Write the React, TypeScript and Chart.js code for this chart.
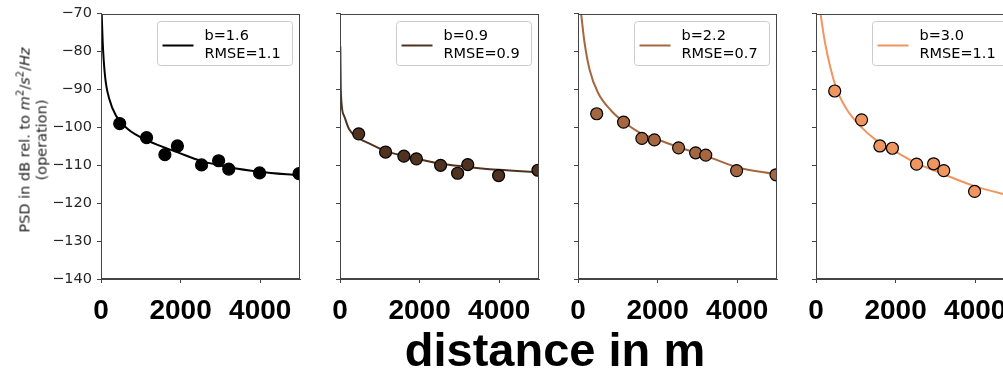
import React, { useEffect, useRef } from "react";
import { Chart, registerables } from "chart.js";

Chart.register(...registerables);

// ---------------- data ----------------
const distances = [470, 1145, 1605, 1920, 2527, 2955, 3210, 3985, 4975];

const psd1 = [-99.0, -102.7, -107.2, -104.9, -109.9, -108.8, -111.0, -112.0, -112.2];
const psd2 = [-101.7, -106.5, -107.6, -108.3, -110.0, -112.1, -109.8, -112.7, -111.3];
const psd3 = [-96.4, -98.6, -102.9, -103.3, -105.4, -106.7, -107.3, -111.4, -112.5];
const psd4 = [-90.4, -98.0, -104.9, -105.5, -109.7, -109.6, -111.4, -116.9];

const fitDist1 = [18, 43, 101, 211, 378, 672, 1175, 1930, 2533, 3221, 3984, 5000];
const fitPsd1 = [-70.2, -77.6, -86.4, -92.6, -96.9, -100.4, -103.5, -106.6, -108.9, -110.5, -111.7, -112.7];

const fitDist2 = [8, 20, 100, 226, 435, 770, 1190, 1945, 2524, 3195, 3983, 5000];
const fitPsd2 = [-78.6, -90.5, -96.9, -100.4, -102.6, -104.4, -106.4, -108.3, -109.6, -110.4, -111.2, -111.8];

const fitDist3 = [80, 164, 290, 500, 835, 1170, 1590, 2098, 2600, 3213, 3990, 5000];
const fitPsd3 = [-70.2, -77.6, -84.7, -90.8, -95.6, -98.7, -101.6, -103.6, -105.5, -107.5, -110.5, -112.4];

const fitDist4 = [115, 226, 352, 518, 770, 1107, 1525, 2028, 2531, 2960, 3211, 3983, 4712, 5000];
const fitPsd4 = [-70.2, -77.6, -83.8, -89.9, -95.2, -99.6, -103.5, -106.6, -109.5, -111.3, -112.4, -115.5, -117.6, -118.3];

const bValues = ["1.6", "0.9", "2.2", "3.0"];
const rmseValues = ["1.1", "0.9", "0.7", "1.1"];
const colors = ["#000000", "#503220", "#a5673f", "#ef955f"];

const xTicks = [0, 2000, 4000];
const yTicks = [-140, -130, -120, -110, -100, -90, -80, -70];
const xMin = 0;
const xMax = 5000;
const yMin = -140;
const yMax = -70;

const xTitle = "distance in m";

// ---------------- layout ----------------
const plotLefts = [101, 340, 578, 816];
const plotWidth = 199;
const axisWidths = [101, 30, 30, 30];
const rightPad = 8;
const canvasH = 330;
const topPad = 12;
const plotHeight = 267;

const scatterSets = [psd1, psd2, psd3, psd4];
const fitDists = [fitDist1, fitDist2, fitDist3, fitDist4];
const fitPsds = [fitPsd1, fitPsd2, fitPsd3, fitPsd4];

const axisColor = "#444444";

const framePlugin = {
  id: "frame",
  afterDatasetsDraw(chart: any) {
    const { ctx, chartArea: a } = chart;
    ctx.save();
    ctx.strokeStyle = axisColor;
    ctx.lineWidth = 1;
    const l = Math.round(a.left) + 0.5;
    const r = Math.round(a.right) - 0.5;
    const t = Math.round(a.top) + 0.5;
    const b = Math.round(a.bottom) - 0.5;
    ctx.strokeRect(l, t, r - l, b - t);
    ctx.restore();
  },
};

const legendPlugin = {
  id: "mplLegend",
  afterDatasetsDraw(chart: any, _args: any, opts: any) {
    const { ctx, chartArea: a } = chart;
    const w = 135;
    const h = 44;
    const x = Math.round(a.right - 8 - w) + 0.5;
    const y = Math.round(a.top + 7) + 0.5;
    ctx.save();
    ctx.beginPath();
    if ((ctx as any).roundRect) (ctx as any).roundRect(x, y, w, h, 3);
    else ctx.rect(x, y, w, h);
    ctx.fillStyle = "rgba(255,255,255,0.85)";
    ctx.fill();
    ctx.strokeStyle = "#cccccc";
    ctx.lineWidth = 1;
    ctx.stroke();
    ctx.beginPath();
    ctx.moveTo(x + 5, y + 24);
    ctx.lineTo(x + 36, y + 24);
    ctx.strokeStyle = opts.color;
    ctx.lineWidth = 2;
    ctx.stroke();
    ctx.fillStyle = "#000";
    ctx.font = '14.5px "DejaVu Sans"';
    ctx.textBaseline = "alphabetic";
    ctx.textAlign = "left";
    ctx.fillText(opts.lines[0], x + 47, y + 18);
    ctx.fillText(opts.lines[1], x + 47, y + 36);
    ctx.restore();
  },
};

function Panel({ idx }: { idx: number }) {
  const ref = useRef<HTMLCanvasElement | null>(null);
  const cw = axisWidths[idx] + plotWidth + rightPad;
  const left = plotLefts[idx] - axisWidths[idx];

  useEffect(() => {
    if (!ref.current) return;
    const color = colors[idx];
    const pts = scatterSets[idx].map((v, i) => ({ x: distances[i], y: v }));
    const fit = fitDists[idx].map((d, i) => ({ x: d, y: fitPsds[idx][i] }));
    const chart = new Chart(ref.current, {
      type: "scatter",
      data: {
        datasets: [
          {
            data: pts,
            backgroundColor: color,
            borderColor: "#000",
            borderWidth: 1.2,
            pointRadius: 6,
            pointHoverRadius: 6,
            clip: 0,
          } as any,
          {
            type: "line",
            data: fit,
            borderColor: color,
            borderWidth: 2,
            pointRadius: 0,
            showLine: true,
            fill: false,
            cubicInterpolationMode: "monotone",
            clip: 0,
          } as any,
        ],
      },
      options: {
        responsive: false,
        animation: false,
        devicePixelRatio: 1,
        layout: { padding: { top: topPad, right: rightPad, left: 0, bottom: 0 } },
        plugins: {
          legend: { display: false },
          tooltip: { enabled: false },
          title: { display: false },
          mplLegend: { color, lines: ["b=" + bValues[idx], "RMSE=" + rmseValues[idx]] },
        } as any,
        scales: {
          x: {
            type: "linear",
            min: xMin,
            max: xMax,
            afterBuildTicks: (s: any) => {
              s.ticks = xTicks.map((v) => ({ value: v }));
            },
            afterFit: (s: any) => {
              s.height = canvasH - topPad - plotHeight;
            },
            grid: {
              display: true,
              drawOnChartArea: false,
              drawTicks: true,
              tickLength: 4,
              color: axisColor,
              lineWidth: 1,
            },
            border: { display: true, color: axisColor, width: 1 },
            ticks: {
              font: { family: "Liberation Sans", size: 28, weight: "bold" },
              color: "#000",
              padding: 11,
              maxRotation: 0,
              minRotation: 0,
              autoSkip: false,
              callback: (v: any) => String(v),
            },
          },
          y: {
            type: "linear",
            min: yMin,
            max: yMax,
            afterBuildTicks: (s: any) => {
              s.ticks = yTicks.map((v) => ({ value: v }));
            },
            afterFit: (s: any) => {
              s.width = axisWidths[idx];
            },
            grid: {
              display: true,
              drawOnChartArea: false,
              drawTicks: true,
              tickLength: 4,
              color: axisColor,
              lineWidth: 1,
            },
            border: { display: true, color: axisColor, width: 1 },
            ticks: {
              font: { family: "DejaVu Sans", size: 14.5 },
              color: "#262626",
              padding: 5,
              autoSkip: false,
              callback: (v: any) => (idx === 0 ? String(v).replace("-", "\u2212") : ""),
            },
          },
        },
      } as any,
      plugins: [framePlugin, legendPlugin],
    });
    return () => chart.destroy();
  }, [idx]);

  return (
    <canvas
      ref={ref}
      width={cw}
      height={canvasH}
      style={{ position: "absolute", left, top: 0, width: cw, height: canvasH }}
    />
  );
}

export default function App() {
  return (
    <div
      style={{
        position: "absolute",
        left: 0,
        top: 0,
        width: 1003,
        height: 374,
        overflow: "hidden",
        background: "#fff",
      }}
    >
      {[0, 1, 2, 3].map((i) => (
        <Panel key={i} idx={i} />
      ))}
      <div
        style={{
          position: "absolute",
          left: 33,
          top: 140,
          transform: "translate(-50%,-50%) rotate(-90deg)",
          fontFamily: "DejaVu Sans",
          fontSize: 14.5,
          lineHeight: "16.5px",
          textAlign: "center",
          whiteSpace: "nowrap",
          color: "#222",
        }}
      >
        <div>
          PSD in dB rel. to <i>m</i>
          <sup style={{ fontSize: "70%", lineHeight: 0 }}>2</sup>/<i>s</i>
          <sup style={{ fontSize: "70%", lineHeight: 0 }}>2</sup>/<i>Hz</i>
        </div>
        <div>(operation)</div>
      </div>
      <div
        style={{
          position: "absolute",
          left: 305,
          width: 500,
          top: 326,
          textAlign: "center",
          fontFamily: "Liberation Sans",
          fontWeight: "bold",
          fontSize: 47,
          lineHeight: "47px",
          color: "#000",
          whiteSpace: "nowrap",
        }}
      >
        {xTitle}
      </div>
    </div>
  );
}
